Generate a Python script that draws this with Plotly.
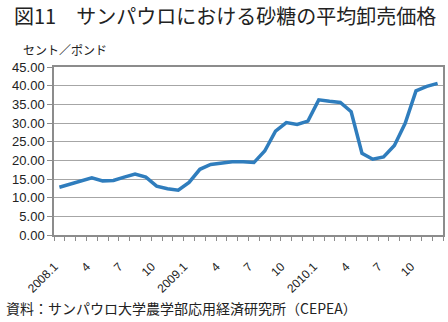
import plotly.graph_objects as go

months = [f"{y}.{m}" for y in (2008, 2009, 2010) for m in range(1, 13)]
tick_labels = ["2008.1", "4", "7", "10", "2009.1", "4", "7", "10", "2010.1", "4", "7", "10"]
prices = [12.8, 13.7, 14.5, 15.3, 14.5, 14.6, 15.5, 16.3, 15.5, 13.1, 12.4, 12.0,
          14.1, 17.6, 18.9, 19.2, 19.6, 19.6, 19.4, 22.5, 27.8, 30.1, 29.6, 30.5,
          36.2, 35.8, 35.5, 33.0, 21.9, 20.3, 20.9, 24.0, 29.9, 38.6, 39.8, 40.6]
y_ticks = [0, 5, 10, 15, 20, 25, 30, 35, 40, 45]

x = list(range(1, len(months) + 1))
font_jp = "Noto Sans CJK JP"

W, H = 448, 322
ml, mr, mt, mb = 54, 5, 67, 87
pw, ph = W - ml - mr, H - mt - mb


def px2paper(px, py):
    return (px - ml) / pw, 1 - (py - mt) / ph


def note(text, px, py, size):
    ax, ay = px2paper(px, py)
    return dict(text=text, x=ax, y=ay, xref="paper", yref="paper",
                showarrow=False, xanchor="left", yanchor="middle",
                font=dict(family=font_jp, size=size, color="#222"))


fig = go.Figure()
fig.add_trace(go.Scatter(
    x=x, y=prices, mode="lines",
    line=dict(color="#2f7dbd", width=3.5),
    hoverinfo="skip", showlegend=False,
))

fig.update_layout(
    width=W, height=H,
    margin=dict(l=ml, r=mr, t=mt, b=mb, autoexpand=False),
    paper_bgcolor="white", plot_bgcolor="white",
    font=dict(family="Liberation Sans, Arial", color="#222"),
    xaxis=dict(
        range=[0.5, len(months) + 0.5],
        tickvals=x[::3], ticktext=tick_labels,
        tickangle=-45, tickfont=dict(size=12, color="#222"),
        ticks="", showgrid=False, zeroline=False,
        ticklabelstandoff=18, ticklabelshift=-5,
        showline=True, linecolor="#8c8c8c", linewidth=2, mirror=True,
        minor=dict(tickvals=[i + 0.5 for i in range(len(months) + 1)],
                   ticks="outside", ticklen=4, tickcolor="#8c8c8c", tickwidth=1),
    ),
    yaxis=dict(
        range=[0, 45], tickvals=y_ticks,
        ticktext=[f"{v:.2f}" for v in y_ticks],
        tickfont=dict(size=13, color="#222"),
        ticks="outside", ticklen=5, tickcolor="#8c8c8c",
        showgrid=True, gridcolor="#a6a6a6", gridwidth=1, zeroline=False,
        showline=True, linecolor="#8c8c8c", linewidth=1.5, mirror=True,
    ),
    annotations=[
        note("図11　サンパウロにおける砂糖の平均卸売価格", 12, 15, 20),
        note("セント／ポンド", 21, 50, 12),
        note("資料：サンパウロ大学農学部応用経済研究所（CEPEA）", 4, 308, 14),
    ],
)

fig.write_html("out.html")
